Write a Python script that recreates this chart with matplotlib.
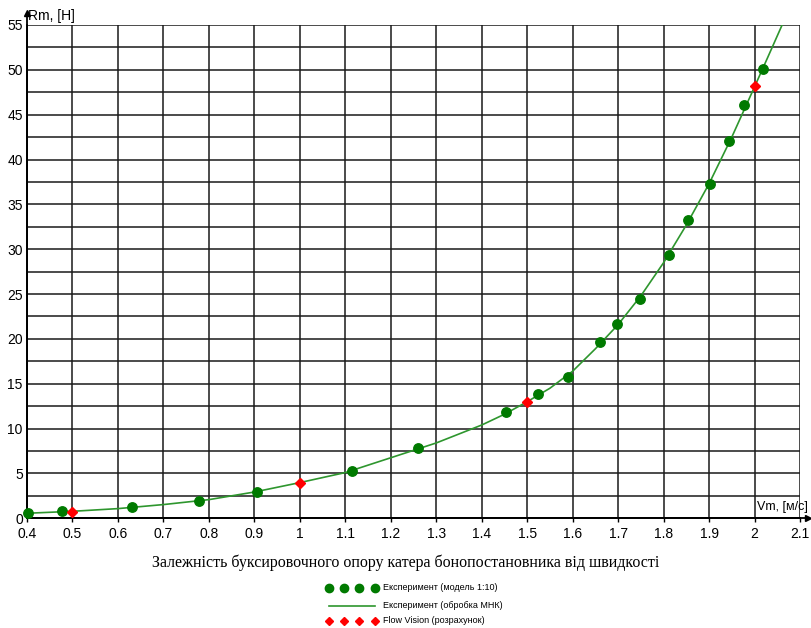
import numpy as np
import matplotlib
matplotlib.use('Agg')
import matplotlib.pyplot as plt

# eksperiment (model 1:10)
exp_v = [0.402, 0.478, 0.631, 0.779, 0.906, 1.114, 1.260, 1.454, 1.523, 1.590,
         1.661, 1.697, 1.748, 1.813, 1.854, 1.901, 1.943, 1.977, 2.019]
exp_r = [0.62, 0.81, 1.26, 1.93, 2.93, 5.27, 7.80, 11.82, 13.86, 15.72,
         19.62, 21.66, 24.48, 29.39, 33.26, 37.27, 42.07, 46.05, 50.10]

# obrobka MNK (curve)
fit_v = [0.4, 0.5, 0.6, 0.7, 0.8, 0.9, 1.0, 1.1, 1.2, 1.3, 1.4, 1.45, 1.5, 1.55,
         1.6, 1.65, 1.7, 1.75, 1.8, 1.85, 1.9, 1.95, 2.0, 2.03, 2.065]
fit_r = [0.56, 0.78, 1.08, 1.53, 2.08, 2.93, 3.98, 5.1, 6.75, 8.4, 10.4, 11.6, 13.0, 14.5,
         16.4, 18.9, 21.6, 24.8, 28.5, 32.7, 37.3, 42.5, 48.1, 51.5, 55.5]

# Flow Vision
fv_v = [0.5, 1.0, 1.5, 2.0]
fv_r = [0.70, 3.95, 13.0, 48.2]

x_ticks = [0.4, 0.5, 0.6, 0.7, 0.8, 0.9, 1.0, 1.1, 1.2, 1.3, 1.4, 1.5, 1.6, 1.7, 1.8, 1.9, 2.0, 2.1]
x_labels = ['0.4', '0.5', '0.6', '0.7', '0.8', '0.9', '1', '1.1', '1.2', '1.3', '1.4',
            '1.5', '1.6', '1.7', '1.8', '1.9', '2', '2.1']
y_ticks = [0, 5, 10, 15, 20, 25, 30, 35, 40, 45, 50, 55]

title = 'Залежність буксировочного опору катера бонопостановника від швидкості'
leg_labels = ['Експеримент (модель 1:10)', 'Експеримент (обробка МНК)', 'Flow Vision (розрахунок)']

plt.rcParams['font.family'] = ['Liberation Sans', 'DejaVu Sans']

W, H = 811, 628
fig = plt.figure(figsize=(W / 100, H / 100), dpi=100)
ax = fig.add_axes([27 / W, 1 - 518.3 / H, (800 - 27) / W, (518.3 - 25) / H])

ax.set_xlim(0.4, 2.1)
ax.set_ylim(0, 55)

# setka
ax.set_xticks(x_ticks)
ax.set_xticklabels(x_labels, fontsize=10)
ax.set_yticks(y_ticks)
ax.set_yticklabels([str(t) for t in y_ticks], fontsize=10)
ax.set_yticks(np.arange(0, 55.1, 2.5), minor=True)
ax.grid(True, which='both', color='#1a1a1a', lw=1.1)
ax.tick_params(axis='x', length=3, width=1, pad=3, color='black')
ax.tick_params(axis='y', length=0, pad=3)
ax.tick_params(axis='y', which='minor', length=0)
for s in ['top', 'right']:
    ax.spines[s].set_visible(False)
for s in ['left', 'bottom']:
    ax.spines[s].set_linewidth(1.3)
    ax.spines[s].set_color('black')

# strelki osej
ax.plot([0, 0], [0, 1.025], transform=ax.transAxes, color='black', lw=1.3, clip_on=False)
ax.plot([0], [1.025], marker='^', color='black', markersize=5, transform=ax.transAxes, clip_on=False)
ax.plot([0, 1.01], [0, 0], transform=ax.transAxes, color='black', lw=1.3, clip_on=False)
ax.plot([1.01], [0], marker='>', color='black', markersize=5, transform=ax.transAxes, clip_on=False)

# dannye
ax.plot(fit_v, fit_r, color='#2e962e', lw=1.2, zorder=3)
ax.plot(exp_v, exp_r, 'o', color='#007a00', markersize=6.8, zorder=4, clip_on=False)
ax.plot(fv_v, fv_r, 'D', color='#ff0000', markersize=4.6, zorder=5, clip_on=False)

ax.text(0.403, 55.2, 'Rm, [H]', fontsize=10, ha='left', va='bottom')
ax.text(2.005, 0.6, 'Vm, [м/с]', fontsize=9, ha='left', va='bottom')

# podpis i legenda
ov = fig.add_axes([0, 0, 1, 1])
ov.set_xlim(0, W)
ov.set_ylim(H, 0)
ov.axis('off')
ov.patch.set_alpha(0)

ov.text(406, 563, title, fontsize=11.5, family=['Liberation Serif', 'DejaVu Serif'],
        ha='center', va='center')

mx = [329, 344, 359, 375]
ov.plot(mx, [587.5] * 4, 'o', color='#007a00', markersize=6)
ov.plot([329, 375], [605.5, 605.5], color='#2e962e', lw=1.2)
ov.plot(mx, [620.5] * 4, 'D', color='#ff0000', markersize=4.2)
for yy, lab in zip([587.5, 605, 620.5], leg_labels):
    ov.text(383, yy, lab, fontsize=6.5, ha='left', va='center')

fig.savefig('out.png', dpi=100)
